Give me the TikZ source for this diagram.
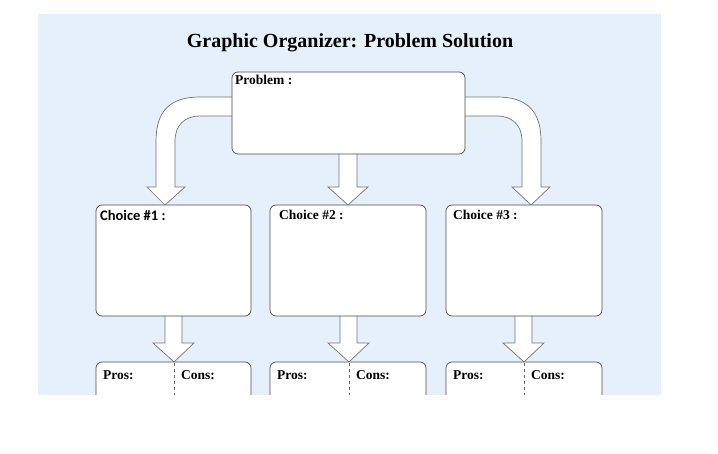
\documentclass[tikz,border=0pt]{standalone}
\usepackage{fontspec}
\setmainfont{Liberation Serif}
\newfontfamily\calib{Carlito}
\definecolor{bgblue}{RGB}{230,240,251}
\begin{document}
\begin{tikzpicture}[x=1pt,y=-1pt,
  box/.style={draw=black!70,fill=white,rounded corners=6pt,line width=0.7pt},
  barrow/.style={draw=black!55,fill=white,line width=0.7pt},
  lbl/.style={anchor=north west,inner sep=0pt,font=\bfseries\fontsize{13.5}{15}\selectfont}]
\useasboundingbox (0,0) rectangle (718,454);
\fill[white] (0,0) rectangle (718,454);
\begin{scope}
\clip (38,14) rectangle (661,395);
\fill[bgblue] (38,14) rectangle (661,395);
\node[font=\bfseries\fontsize{20}{22}\selectfont] (title) at (350,43) {Graphic Organizer: Problem Solution};
% curved arrows
\draw[barrow] (240,97) -- (200,97) .. controls (170,97) and (156,111) .. (156,141) -- (156,187) -- (147,187) -- (165,205) -- (185,187) -- (175,187) -- (175,141) .. controls (175,125) and (185,116) .. (200,116) -- (240,116) -- cycle;
\draw[barrow] (457,97) -- (497,97) .. controls (527,97) and (541,111) .. (541,141) -- (541,187) -- (550,187) -- (531,205) -- (512,187) -- (522,187) -- (522,141) .. controls (522,125) and (512,116) .. (497,116) -- (457,116) -- cycle;
\draw[barrow] (339,145) -- (339,187) -- (328,187) -- (348,205) -- (368,187) -- (357,187) -- (357,145) -- cycle;
\foreach \c in {174,349,524}{
  \draw[barrow] (\c-9,310) -- (\c-9,343) -- (\c-21,343) -- (\c,362) -- (\c+20,343) -- (\c+8,343) -- (\c+8,310) -- cycle;}
\draw[box] (232,72) rectangle (465,154);
\node[lbl] (p) at (235,75) {Problem :};
\draw[box] (96,205) rectangle (251,316);
\draw[box] (270,205) rectangle (426,316);
\draw[box] (446,205) rectangle (602,316);
\node[lbl,font=\calib\bfseries\fontsize{14.5}{16}\selectfont] (c1) at (100,210) {Choice \#1 :};
\node[lbl] (c2) at (279,210) {Choice \#2 :};
\node[lbl] (c3) at (453,210) {Choice \#3 :};
\foreach \l/\r/\d/\n in {96/251/174/a,270/426/349/b,446/602/524/c}{
  \draw[box] (\l,362) rectangle (\r,420);
  \draw[dashed,black!60,line width=0.6pt] (\d,363) -- (\d,395);
  \node[lbl] (pros\n) at (\l+7,370) {Pros:};
  \node[lbl] (cons\n) at (\d+7,370) {Cons:};}
\end{scope}
\end{tikzpicture}
\end{document}
